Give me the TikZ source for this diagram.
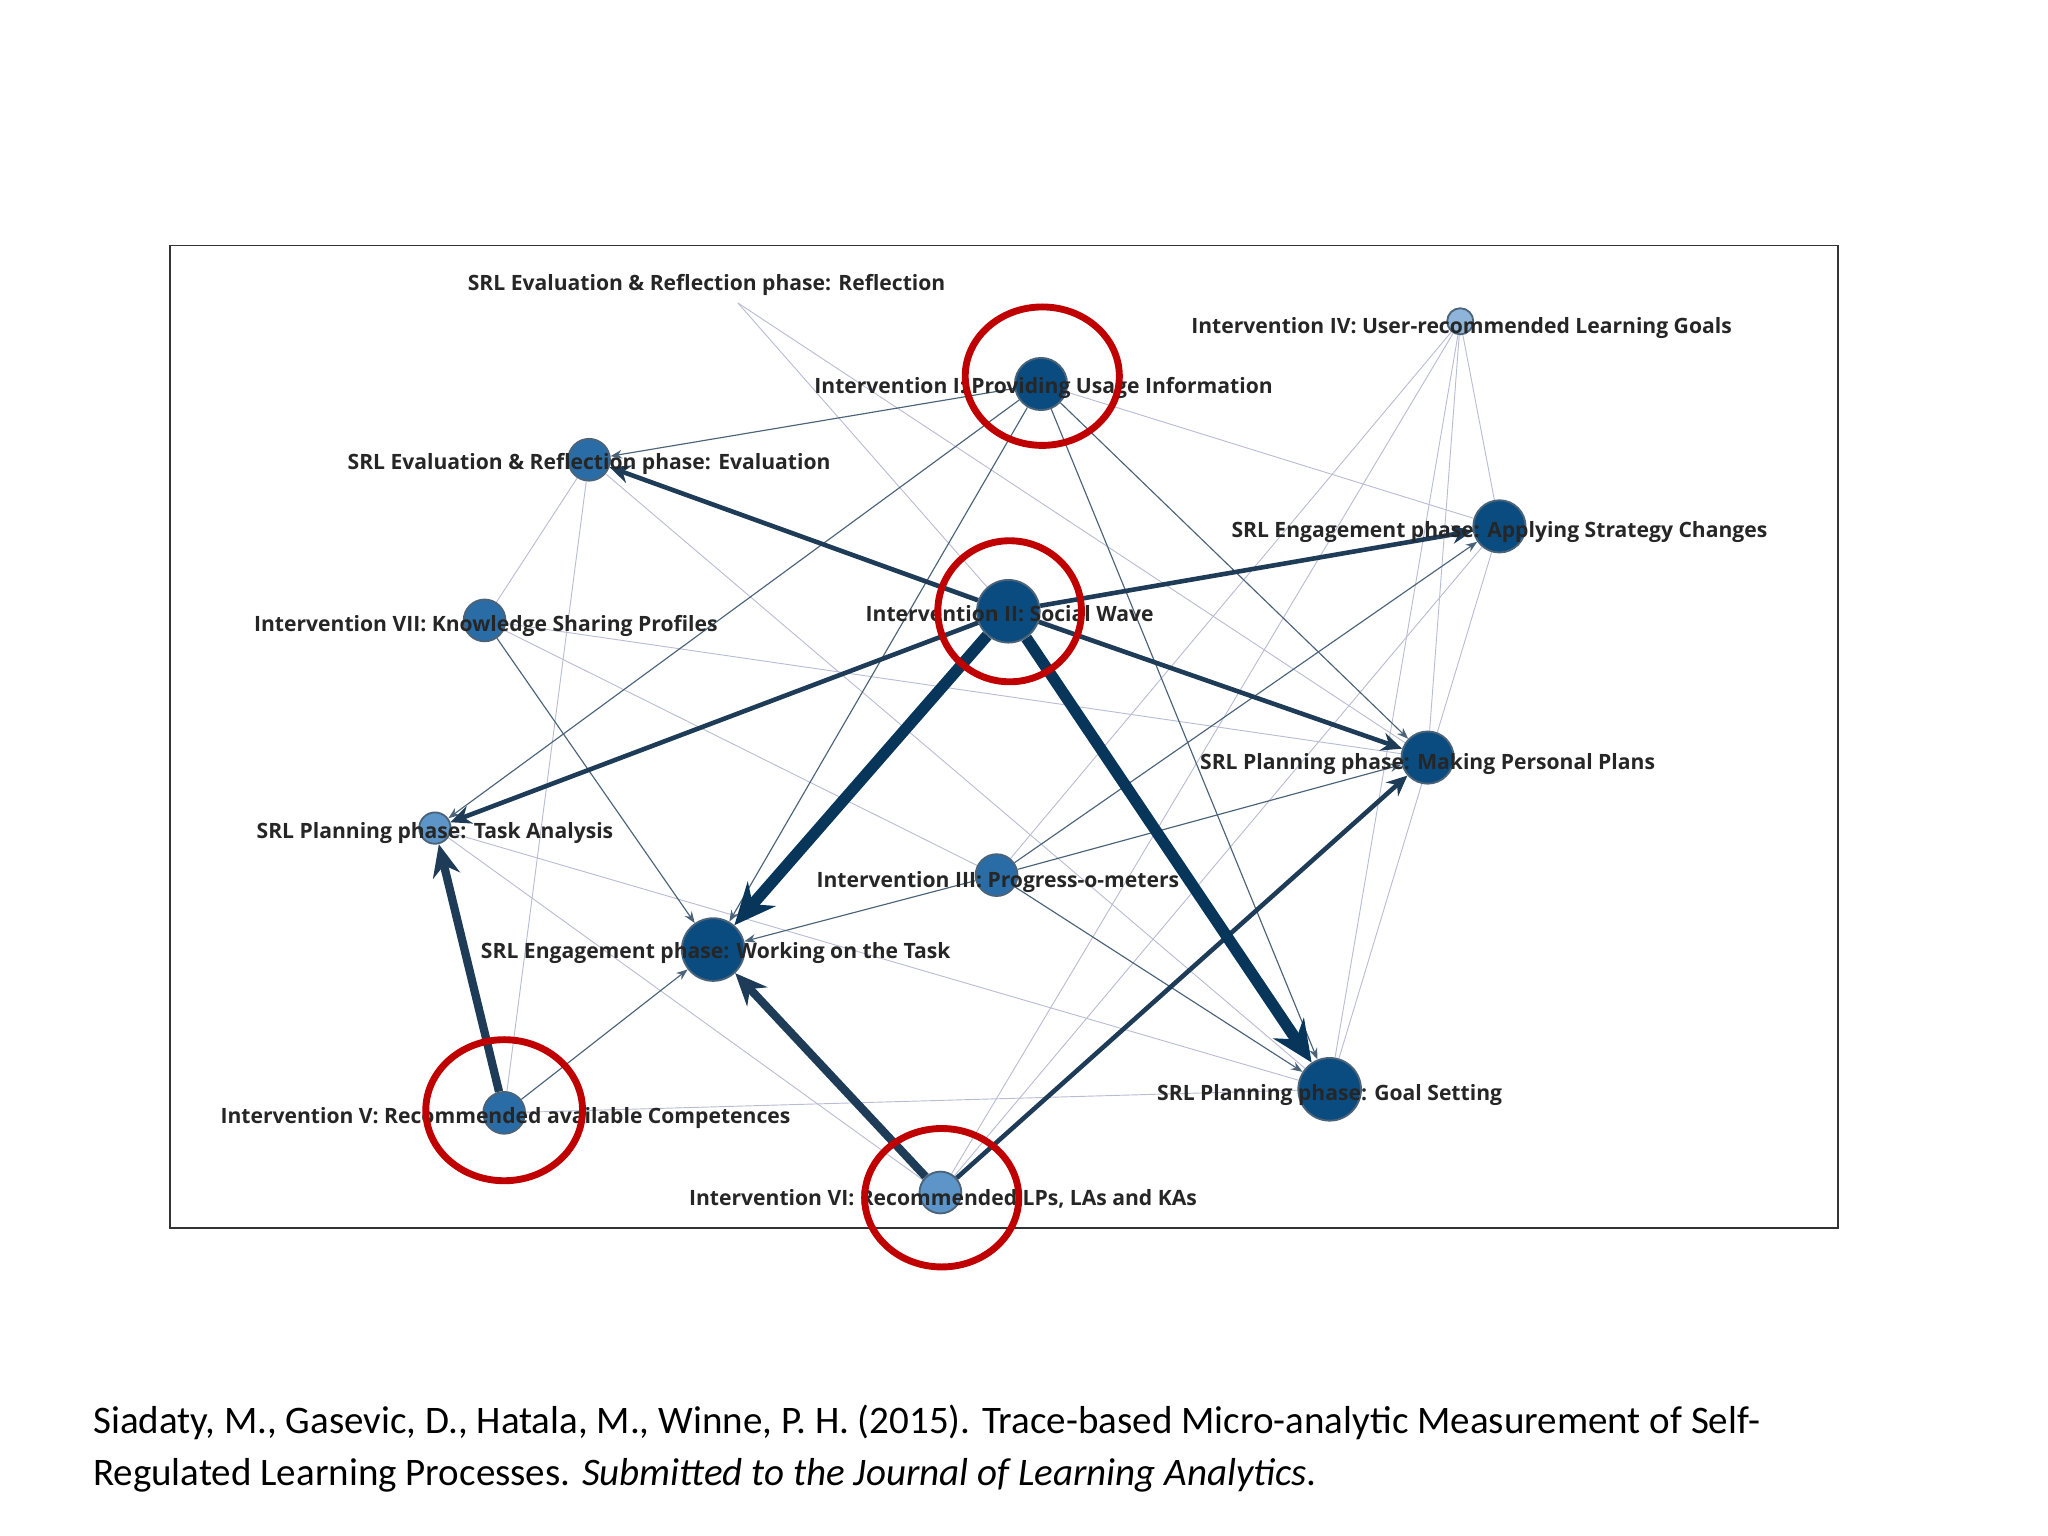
\documentclass[tikz,border=0pt]{standalone}
\usepackage{fontspec}
\setmainfont{Carlito}
\newfontfamily\lblfont{Open Sans}
\usetikzlibrary{arrows.meta}
\pgfdeclarelayer{bg}
\pgfdeclarelayer{fg}
\pgfsetlayers{bg,main,fg}
\definecolor{ndark}{HTML}{0B4C80}
\definecolor{nmid}{HTML}{2A6DA6}
\definecolor{nlight}{HTML}{5D95C8}
\definecolor{edg}{HTML}{1E3C58}
\definecolor{faint}{HTML}{B8BCD4}
\definecolor{ringred}{HTML}{C00000}
\tikzset{
 nd/.style={circle,draw=edg!80,line width=0.8pt,inner sep=0pt},
 lbl/.style={font=\lblfont\bfseries\fontsize{9.2pt}{10pt}\selectfont,text=black!85},
 thin/.style={draw=edg!80,line width=0.5pt,-{Stealth[length=5pt]}},
 fnt/.style={draw=faint,line width=0.4pt},
 med/.style={draw=edg,line width=2pt,-{Stealth[length=9pt,width=8pt]}},
 thk/.style={draw=edg,line width=3.6pt,-{Stealth[length=14pt,width=12pt]}},
 vthk/.style={draw=ndark!70!black,line width=5pt,-{Stealth[length=18pt,width=16pt]}},
 ring/.style={draw=ringred,line width=3pt}
}
\begin{document}
\begin{tikzpicture}[x=0.02cm,y=-0.02cm]
\useasboundingbox (0,0) rectangle (1568,1176);
\draw[black!80,line width=0.7pt] (130,188) rectangle (1407,940);
% nodes
\coordinate (R) at (565,232);
\node[nd,fill=nlight!70,minimum size=0.4cm] (IV) at (1118,246) {};
\node[nd,fill=ndark,minimum size=0.8cm] (I) at (797,294) {};
\node[nd,fill=nmid,minimum size=0.64cm] (EV) at (451,352) {};
\node[nd,fill=ndark,minimum size=0.8cm] (AS) at (1148,403) {};
\node[nd,fill=ndark,minimum size=0.96cm] (II) at (772,468) {};
\node[nd,fill=nmid,minimum size=0.64cm] (VII) at (371,475) {};
\node[nd,fill=ndark,minimum size=0.8cm] (MP) at (1093,580) {};
\node[nd,fill=nlight,minimum size=0.48cm] (TA) at (333,634) {};
\node[nd,fill=nmid,minimum size=0.64cm] (III) at (763,670) {};
\node[nd,fill=ndark,minimum size=0.96cm] (WT) at (546,727) {};
\node[nd,fill=ndark,minimum size=0.96cm] (GS) at (1018,834) {};
\node[nd,fill=nmid,minimum size=0.64cm] (V) at (386,852) {};
\node[nd,fill=nlight,minimum size=0.64cm] (VI) at (720,913) {};
\begin{pgfonlayer}{bg}
\draw[fnt] (R) -- (II);
\draw[fnt] (R) -- (MP);
\draw[fnt] (I) -- (AS);
\draw[fnt] (IV) -- (MP);
\draw[fnt] (IV) -- (GS);
\draw[fnt] (IV) -- (AS);
\draw[fnt] (IV) -- (III);
\draw[fnt] (IV) -- (VI);
\draw[fnt] (AS) -- (VI);
\draw[fnt] (AS) -- (GS);
\draw[fnt] (EV) -- (V);
\draw[fnt] (EV) -- (VII);
\draw[fnt] (EV) -- (GS);
\draw[fnt] (VII) -- (MP);
\draw[fnt] (TA) -- (GS);
\draw[fnt] (TA) -- (VI);
\draw[fnt] (V) -- (GS);
\draw[fnt] (EV) -- (MP);
\draw[fnt] (VII) -- (III);
\draw[thin] (I) -- (EV);
\draw[thin] (I) -- (WT);
\draw[thin] (I) -- (TA);
\draw[thin] (I) -- (GS);
\draw[thin] (I) -- (MP);
\draw[thin] (III) -- (AS);
\draw[thin] (III) -- (MP);
\draw[thin] (III) -- (WT);
\draw[thin] (III) -- (GS);
\draw[thin] (VII) -- (WT);
\draw[thin] (V) -- (WT);
\draw[med] (II) -- (EV);
\draw[med] (II) -- (AS);
\draw[med] (II) -- (TA);
\draw[med] (II) -- (MP);
\draw[med] (VI) -- (MP);
\draw[thk] (VI) -- (WT);
\draw[thk] (V) -- (TA);
\draw[vthk] (II) -- (WT);
\draw[vthk] (II) -- (GS);
\end{pgfonlayer}
\begin{pgfonlayer}{fg}
\node[lbl] at (541,218) {SRL Evaluation \& Reflection phase: Reflection};
\node[lbl] at (1119,251) {Intervention IV: User-recommended Learning Goals};
\node[lbl] at (799,297) {Intervention I: Providing Usage Information};
\node[lbl] at (451,355) {SRL Evaluation \& Reflection phase: Evaluation};
\node[lbl] at (1148,407) {SRL Engagement phase: Applying Strategy Changes};
\node[lbl] at (773,470) {Intervention II: Social Wave};
\node[lbl] at (372,479) {Intervention VII: Knowledge Sharing Profiles};
\node[lbl] at (1093,585) {SRL Planning phase: Making Personal Plans};
\node[lbl] at (333,638) {SRL Planning phase: Task Analysis};
\node[lbl] at (764,675) {Intervention III: Progress-o-meters};
\node[lbl] at (548,730) {SRL Engagement phase: Working on the Task};
\node[lbl] at (1018,838) {SRL Planning phase: Goal Setting};
\node[lbl] at (387,856) {Intervention V: Recommended available Competences};
\node[lbl] at (722,918) {Intervention VI: Recommended LPs, LAs and KAs};
\draw[ring] (798,288) ellipse (59 and 53);
\draw[ring] (773,468) ellipse (55 and 54);
\draw[ring] (386,850) ellipse (60 and 54);
\draw[ring] (721,917) ellipse (59 and 53);
\end{pgfonlayer}
\node[anchor=north west,align=left,font=\fontsize{17pt}{23pt}\selectfont,inner sep=0pt] at (71,1075)
{Siadaty, M., Gasevic, D., Hatala, M., Winne, P. H. (2015). Trace-based Micro-analytic Measurement of Self-\\
Regulated Learning Processes. \textit{Submitted to the Journal of Learning Analytics}.};
\end{tikzpicture}
\end{document}
